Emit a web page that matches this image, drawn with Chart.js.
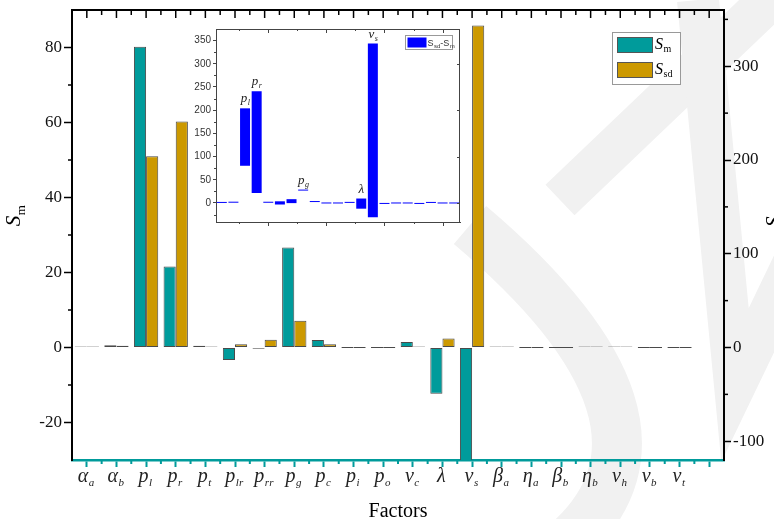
<!DOCTYPE html>
<html>
<head>
<meta charset="utf-8">
<script src="https://cdn.jsdelivr.net/npm/chart.js@4.4.0/dist/chart.umd.min.js"></script>
<style>
  html, body { margin: 0; padding: 0; background: #fff; }
  #wrap { position: relative; width: 774px; height: 519px; overflow: hidden; }
  #main { position: absolute; left: 0; top: 0; }
  #inset { position: absolute; left: 185px; top: 22px; }
</style>
</head>
<body>
<div id="wrap">
  <canvas id="main" width="774" height="519"></canvas>
  <canvas id="inset" width="280" height="205"></canvas>
</div>
<script>
// factor names: symbol + subscript
const symbols = ['α', 'α', 'p', 'p', 'p', 'p', 'p', 'p', 'p', 'p', 'p', 'ν', 'λ', 'ν', 'β', 'η', 'β', 'η', 'ν', 'ν', 'ν'];
const subs = ['a', 'b', 'l', 'r', 't', 'lr', 'rr', 'g', 'c', 'i', 'o', 'c', '', 's', 'a', 'a', 'b', 'b', 'h', 'b', 't'];

// S_m (left axis) and S_sd (right axis)
const Sm = [0.1, 0.6, 80.2, 21.6, 0.5, -3.3, -0.3, 26.7, 2.0, 0, 0, 1.5, -12.3, -31, 0.1, 0, 0, 0.1, 0.3, 0, 0];
const Ssd = [0.2, 1.8, 204, 241, 1.0, 3.6, 8.2, 28.6, 3.6, 0, 0, 0.2, 9.6, 343.5, 0.1, 0, 0, 0.1, 0.1, 0, 0];

const smTicks = [-20, 0, 20, 40, 60, 80];
const smMinor = [-10, 10, 30, 50, 70];
const ssdTicks = [-100, 0, 100, 200, 300];
const ssdMinor = [-50, 50, 150, 250, 350];

const insetTicks = [0, 50, 100, 150, 200, 250, 300, 350];
const insetMinor = [-25, 25, 75, 125, 175, 225, 275, 325];
const insetRight = [0, 100, 200, 300];
const insetXMajor = [4, 9, 14, 19];
const insetXMinor = [1.5, 6.5, 11.5, 16.5];
const insetNotes = [2, 3, 7, 12, 13];

const TEAL = '#009b9b';
const GOLD = '#cc9900';
const SERIF = '"Liberation Serif", "Times New Roman", serif';
const SANS = '"Liberation Sans", Arial, sans-serif';

function subText(ctx, x, y, main, sub, size, subSize, opts) {
  opts = opts || {};
  const mainFont = (opts.mainItalic === false ? '' : 'italic ') + size + 'px ' + (opts.family || SERIF);
  const subFont = (opts.subItalic ? 'italic ' : '') + subSize + 'px ' + (opts.family || SERIF);
  ctx.font = mainFont;
  const w1 = ctx.measureText(main).width;
  ctx.font = subFont;
  const w2 = sub ? ctx.measureText(sub).width : 0;
  const x0 = opts.align === 'left' ? x : x - (w1 + w2) / 2;
  ctx.textAlign = 'left';
  ctx.textBaseline = 'alphabetic';
  ctx.font = mainFont;
  ctx.fillText(main, x0, y);
  if (sub) {
    ctx.font = subFont;
    ctx.fillText(sub, x0 + w1 + (opts.gap || 0.5), y + (opts.drop || size * 0.22));
  }
  return w1 + w2;
}

function line(ctx, x1, y1, x2, y2) {
  ctx.beginPath();
  ctx.moveTo(x1, y1);
  ctx.lineTo(x2, y2);
  ctx.stroke();
}

function noPad(scale) {
  scale.paddingLeft = 0; scale.paddingRight = 0;
  scale.paddingTop = 0; scale.paddingBottom = 0;
}

// faint watermark behind the plot
const watermark = {
  id: 'watermark',
  beforeDraw(chart) {
    const ctx = chart.ctx;
    ctx.save();
    ctx.strokeStyle = '#f1f1f1';
    ctx.lineCap = 'butt';
    ctx.lineJoin = 'miter';
    ctx.lineWidth = 42;
    line(ctx, 560, 200, 780, -10);
    ctx.beginPath();
    ctx.moveTo(698, 0);
    ctx.lineTo(735, 385);
    ctx.lineTo(800, 250);
    ctx.stroke();
    ctx.lineWidth = 50;
    ctx.beginPath();
    ctx.moveTo(470, 225);
    ctx.quadraticCurveTo(700, 420, 570, 540);
    ctx.stroke();
    ctx.restore();
  }
};

const mainDecor = {
  id: 'mainDecor',
  afterDraw(chart) {
    const {ctx, chartArea: a, scales: {x, y, y1}} = chart;
    const n = chart.data.labels.length;
    ctx.save();
    // top frame with inward ticks
    ctx.strokeStyle = '#000';
    ctx.lineWidth = 2;
    line(ctx, a.left - 1, a.top, a.right + 1, a.top);
    ctx.lineWidth = 1.5;
    for (let i = 0; i < n; i++) {
      const px = x.getPixelForValue(i);
      line(ctx, px, a.top, px, a.top + 8);
    }
    for (let i = 1; i < n; i++) {
      const px = x.getPixelForValue(i - 0.5);
      line(ctx, px, a.top, px, a.top + 5);
    }
    // bottom minor ticks (teal, outward)
    ctx.strokeStyle = TEAL;
    ctx.lineWidth = 2;
    for (let i = 1; i < n; i++) {
      const px = x.getPixelForValue(i - 0.5);
      line(ctx, px, a.bottom, px, a.bottom + 4);
    }
    // minor ticks on y axes
    ctx.strokeStyle = '#000';
    ctx.lineWidth = 1.5;
    smMinor.forEach(v => {
      const py = y.getPixelForValue(v);
      line(ctx, a.left - 4, py, a.left, py);
    });
    ssdMinor.forEach(v => {
      const py = y1.getPixelForValue(v);
      line(ctx, a.right, py, a.right + 4, py);
    });

    // factor labels
    ctx.fillStyle = '#222';
    symbols.forEach((s, i) => {
      subText(ctx, x.getPixelForValue(i) - 1, 482, s, subs[i], 20, 11, {subItalic: true, drop: 4});
    });

    // axis titles
    ctx.fillStyle = '#000';
    ctx.font = '20px ' + SERIF;
    ctx.textAlign = 'center';
    ctx.textBaseline = 'alphabetic';
    ctx.fillText('Factors', (a.left + a.right) / 2, 517);

    ctx.save();
    ctx.translate(20, 216);
    ctx.rotate(-Math.PI / 2);
    subText(ctx, 0, 0, 'S', 'm', 21, 13, {drop: 5});
    ctx.restore();

    ctx.save();
    ctx.translate(780, 216);
    ctx.rotate(-Math.PI / 2);
    subText(ctx, 0, 0, 'S', 'sd', 21, 13, {drop: 5});
    ctx.restore();

    // legend
    ctx.strokeStyle = '#999';
    ctx.lineWidth = 1;
    ctx.fillStyle = '#fff';
    ctx.fillRect(612.5, 32.5, 68, 52);
    ctx.strokeRect(612.5, 32.5, 68, 52);
    chart.data.datasets.forEach((ds, i) => {
      const top = 37.5 + i * 25;
      ctx.fillStyle = ds.backgroundColor;
      ctx.fillRect(617.5, top, 35, 15);
      ctx.strokeStyle = '#555';
      ctx.strokeRect(617.5, top, 35, 15);
      ctx.fillStyle = '#000';
      subText(ctx, 655, top + 11, 'S', ds.subLabel, 16, 10, {align: 'left', drop: 3});
    });
    ctx.restore();
  }
};

const labels = symbols.map((s, i) => s + subs[i]).concat(['']);

new Chart(document.getElementById('main'), {
  type: 'bar',
  data: {
    labels: labels,
    datasets: [
      {
        label: 'Sm',
        subLabel: 'm',
        data: Sm,
        yAxisID: 'y',
        backgroundColor: TEAL,
        borderColor: '#4a4a4a',
        borderWidth: 1,
        borderSkipped: false,
        minBarLength: 1,
        categoryPercentage: 0.82,
        barPercentage: 1.0
      },
      {
        label: 'Ssd',
        subLabel: 'sd',
        data: Ssd,
        yAxisID: 'y1',
        backgroundColor: GOLD,
        borderColor: '#4a4a4a',
        borderWidth: 1,
        borderSkipped: false,
        minBarLength: 1,
        categoryPercentage: 0.82,
        barPercentage: 1.0
      }
    ]
  },
  options: {
    responsive: false,
    animation: false,
    layout: {padding: {top: 10, left: 0, right: 0, bottom: 0}},
    plugins: {legend: {display: false}, tooltip: {enabled: false}},
    scales: {
      x: {
        grid: {display: true, drawOnChartArea: false, offset: false, tickLength: 7, tickColor: TEAL, tickWidth: 2},
        border: {color: TEAL, width: 2.5},
        ticks: {callback: () => '', autoSkip: false, maxRotation: 0},
        afterFit(s) { s.height = 59; noPad(s); }
      },
      y: {
        position: 'left',
        min: -30,
        max: 90,
        afterBuildTicks(s) { s.ticks = smTicks.map(v => ({value: v})); },
        grid: {drawOnChartArea: false, tickLength: 8, tickColor: '#000', tickWidth: 1.5},
        border: {color: '#000', width: 2},
        ticks: {color: '#111', padding: 2, font: {family: SERIF, size: 17}},
        afterFit(s) { s.width = 72; noPad(s); }
      },
      y1: {
        position: 'right',
        min: -120,
        max: 360,
        afterBuildTicks(s) { s.ticks = ssdTicks.map(v => ({value: v})); },
        grid: {drawOnChartArea: false, tickLength: 7, tickColor: '#000', tickWidth: 1.5},
        border: {color: '#000', width: 2},
        ticks: {color: '#111', padding: 2, font: {family: SERIF, size: 17}},
        afterFit(s) { s.width = 50; noPad(s); }
      }
    }
  },
  plugins: [watermark, mainDecor]
});

// ---------- inset: S_sd - S_m ----------
const insetDecor = {
  id: 'insetDecor',
  afterDraw(chart) {
    const {ctx, chartArea: a, scales: {x, y}} = chart;
    ctx.save();
    ctx.strokeStyle = '#444';
    ctx.lineWidth = 1;
    line(ctx, a.left, a.top + 0.5, a.right, a.top + 0.5);
    line(ctx, a.right - 0.5, a.top, a.right - 0.5, a.bottom);
    insetMinor.forEach(v => {
      const py = Math.round(y.getPixelForValue(v)) + 0.5;
      line(ctx, a.left - 2, py, a.left, py);
    });
    insetRight.forEach(v => {
      const py = Math.round(y.getPixelForValue(v)) + 0.5;
      line(ctx, a.right, py, a.right - 3, py);
    });
    insetXMajor.forEach(v => {
      const px = Math.round(x.getPixelForValue(v)) + 0.5;
      line(ctx, px, a.bottom, px, a.bottom + 4);
      line(ctx, px, a.top, px, a.top + 4);
    });
    insetXMinor.forEach(v => {
      const px = Math.round(x.getPixelForValue(v)) + 0.5;
      line(ctx, px, a.bottom, px, a.bottom + 2);
      line(ctx, px, a.top, px, a.top + 2);
    });

    // annotations above the tallest bars
    ctx.fillStyle = '#222';
    insetNotes.forEach(i => {
      const top = y.getPixelForValue(Math.max(Sm[i], Ssd[i]));
      subText(ctx, x.getPixelForValue(i), top - 6, symbols[i], subs[i], 13, 8, {subItalic: true, drop: 3});
    });

    // legend
    const lx = 405.5 - 185, ly = 35.5 - 22;
    ctx.fillStyle = '#fff';
    ctx.fillRect(lx, ly, 47, 14);
    ctx.strokeStyle = '#999';
    ctx.strokeRect(lx, ly, 47, 14);
    ctx.fillStyle = '#0000ff';
    ctx.fillRect(lx + 2, ly + 2, 19, 10);
    ctx.fillStyle = '#333';
    let w = subText(ctx, lx + 22, ly + 10, 'S', 'sd', 9, 6, {align: 'left', mainItalic: false, family: SANS, drop: 2});
    ctx.font = '9px ' + SANS;
    ctx.fillText('-', lx + 22.5 + w, ly + 10);
    subText(ctx, lx + 25.5 + w, ly + 10, 'S', 'm', 9, 6, {align: 'left', mainItalic: false, family: SANS, drop: 2});
    ctx.restore();
  }
};

new Chart(document.getElementById('inset'), {
  type: 'bar',
  data: {
    labels: symbols.map((s, i) => s + subs[i]),
    datasets: [{
      label: 'Ssd-Sm',
      data: Sm.map((m, i) => [m, Ssd[i]]),
      backgroundColor: '#0000ff',
      borderWidth: 0,
      minBarLength: 1,
      categoryPercentage: 0.86,
      barPercentage: 1.0
    }]
  },
  options: {
    responsive: false,
    animation: false,
    layout: {padding: {top: 7, right: 5, left: 0, bottom: 0}},
    plugins: {legend: {display: false}, tooltip: {enabled: false}},
    scales: {
      x: {
        grid: {display: false},
        border: {color: '#444', width: 1},
        ticks: {callback: () => '', autoSkip: false, maxRotation: 0},
        afterFit(s) { s.height = 5; noPad(s); }
      },
      y: {
        min: -41,
        max: 375,
        afterBuildTicks(s) { s.ticks = insetTicks.map(v => ({value: v})); },
        grid: {drawOnChartArea: false, tickLength: 3, tickColor: '#444', tickWidth: 1},
        border: {color: '#444', width: 1},
        ticks: {color: '#333', padding: 2, font: {family: SANS, size: 10}},
        afterFit(s) { s.width = 31; noPad(s); }
      }
    }
  },
  plugins: [insetDecor]
});
</script>
</body>
</html>
